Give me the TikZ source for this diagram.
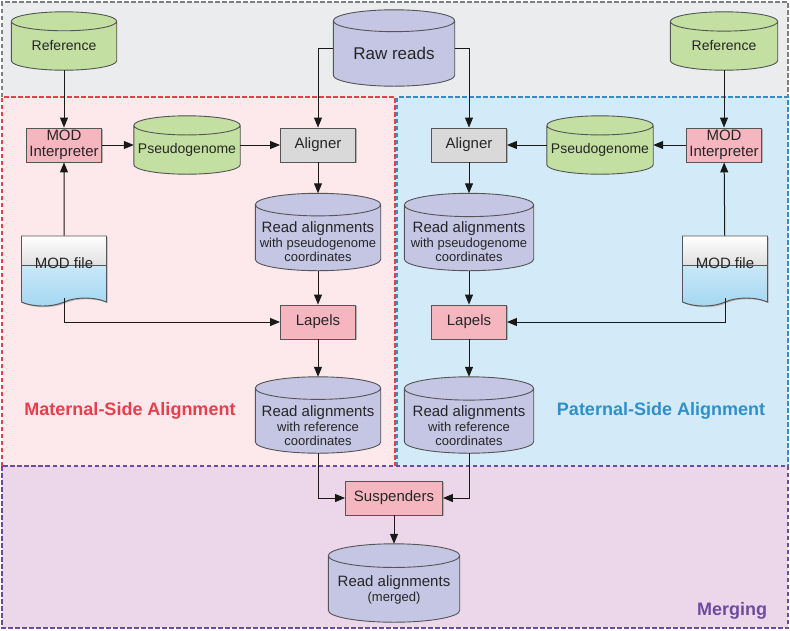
\documentclass[tikz,border=0pt]{standalone}
\usepackage{fontspec}
\setmainfont{Liberation Sans}
\usetikzlibrary{calc,shapes.symbols,shadows,arrows.meta}

\definecolor{topbg}{HTML}{EBECEE}
\definecolor{matbg}{HTML}{FDE8EC}
\definecolor{patbg}{HTML}{D3EBF9}
\definecolor{mrgbg}{HTML}{ECD7EA}
\definecolor{topln}{HTML}{7F7F7F}
\definecolor{matln}{HTML}{E5404C}
\definecolor{patln}{HTML}{2F8FCB}
\definecolor{mrgln}{HTML}{6D4C9F}
\definecolor{greenfill}{HTML}{C3DFA2}
\definecolor{purplefill}{HTML}{C5C5E4}
\definecolor{pinkfill}{HTML}{F6B6C0}
\definecolor{grayfill}{HTML}{D9D9D9}
\definecolor{docblue}{HTML}{A3D7F2}
\definecolor{edge}{HTML}{555555}

\pgfdeclarelayer{regions}
\pgfdeclarelayer{back}
\pgfsetlayers{regions,back,main}

% cylinder outline filling the box of a node
\newcommand\dbpath[1]{let \p1=(#1.north west), \p2=(#1.south east),
  \n1={(\x2-\x1)/2}, \n2={0.09*(\x2-\x1)} in
  (\x1,\y1-\n2) -- (\x1,\y2+\n2) arc[start angle=180,end angle=360,x radius=\n1,y radius=\n2]
  -- (\x2,\y1-\n2) arc[start angle=0,end angle=180,x radius=\n1,y radius=\n2] -- cycle
  (\x1,\y1-\n2) arc[start angle=180,end angle=360,x radius=\n1,y radius=\n2]}

\begin{document}
\begin{tikzpicture}[x=1pt,y=-1pt]
\tikzstyle{every node}+=[inner sep=0pt, font=\fontsize{15}{16}\selectfont, text=black!85]
\tikzstyle{region}=[line width=2pt, dash pattern=on 4.5pt off 2.5pt]
\tikzstyle{shade}=[general shadow={fill=black!30, shadow xshift=1.2pt, shadow yshift=-1.2pt}]
\tikzstyle{db}=[rectangle]
\tikzstyle{dbtext}=[align=center]
\tikzstyle{small}=[font=\fontsize{13}{14.5}\selectfont]
\tikzstyle{tool}=[rectangle, draw=edge, line width=0.9pt, align=center, minimum width=75pt, minimum height=34pt, shade]
\tikzstyle{doc}=[tape, tape bend top=none, tape bend bottom=in and out, tape bend height=8pt,
  draw=edge, line width=0.9pt, minimum width=85pt, minimum height=70pt, text depth=8pt, shade,
  path picture={
    \fill[top color=docblue!30, bottom color=docblue] (path picture bounding box.south west) rectangle (path picture bounding box.north east);
    \fill[top color=white, bottom color=black!12] (path picture bounding box.north west) rectangle ([yshift=-29pt]path picture bounding box.north east);
    \draw[edge, line width=0.7pt] ([yshift=-29pt]path picture bounding box.north west) -- ([yshift=-29pt]path picture bounding box.north east);
  }]
\tikzstyle{arr}=[-{Triangle[length=10pt,width=8pt]}, line width=1pt, black!90]
\tikzstyle{side}=[font=\fontsize{18}{20}\selectfont\bfseries]

% regions
\path[use as bounding box] (0,0) rectangle (790,630);
\begin{pgfonlayer}{regions}
\fill[topbg] (2,2) rectangle (788,97);
\fill[matbg] (2,97) rectangle (395,466);
\fill[patbg] (395,97) rectangle (788,466);
\fill[mrgbg] (2,466) rectangle (788,628);
\draw[region, topln] (2,97) -- (2,2) -- (788,2) -- (788,97);
\draw[region, matln] (2,466) -- (2,97) -- (395,97) -- (395,466);
\draw[region, patln] (397,466) -- (397,97) -- (788,97) -- (788,466);
\draw[region, mrgln] (2,466) rectangle (788,628);
\end{pgfonlayer}

% inputs
\node[db, minimum width=105pt, minimum height=58pt,
  label={[dbtext, font=\fontsize{14}{16}\selectfont, yshift=-4pt]center:Reference}] (refL) at (64,41) {};
\node[db, minimum width=121pt, minimum height=76pt,
  label={[dbtext, font=\fontsize{17}{18}\selectfont, yshift=-5pt]center:Raw reads}] (raw) at (394,48) {};
\node[db, minimum width=107pt, minimum height=58pt,
  label={[dbtext, font=\fontsize{14}{16}\selectfont, yshift=-4pt]center:Reference}] (refR) at (724,41) {};

% maternal side
\node[tool, fill=pinkfill] (modL) at (64,145) {MOD\\Interpreter};
\node[db, minimum width=106pt, minimum height=58pt,
  label={[dbtext, font=\fontsize{14}{16}\selectfont, yshift=-5pt]center:Pseudogenome}] (pseuL) at (187,145) {};
\node[tool, fill=grayfill] (alnL) at (318,145) {Aligner};
\node[db, minimum width=125pt, minimum height=77pt,
  label={[dbtext, small, yshift=-10pt]center:{{\fontsize{15}{16}\selectfont Read alignments}\\with pseudogenome\\coordinates}}] (rapL) at (318,232) {};
\node[doc] (docL) at (64,267) {MOD file};
\node[tool, fill=pinkfill] (lapL) at (318,322) {Lapels};
\node[db, minimum width=125pt, minimum height=76pt,
  label={[dbtext, small, yshift=-11pt]center:{{\fontsize{15}{16}\selectfont Read alignments}\\with reference\\coordinates}}] (rrfL) at (318,415) {};
\node[side, text=matln] (matL) at (130,411) {Maternal-Side Alignment};

% paternal side
\node[tool, fill=pinkfill] (modR) at (724,145) {MOD\\Interpreter};
\node[db, minimum width=106pt, minimum height=58pt,
  label={[dbtext, font=\fontsize{14}{16}\selectfont, yshift=-5pt]center:Pseudogenome}] (pseuR) at (600,145) {};
\node[tool, fill=grayfill] (alnR) at (469,145) {Aligner};
\node[db, minimum width=129pt, minimum height=77pt,
  label={[dbtext, small, yshift=-10pt]center:{{\fontsize{15}{16}\selectfont Read alignments}\\with pseudogenome\\coordinates}}] (rapR) at (469,232) {};
\node[doc] (docR) at (725,267) {MOD file};
\node[tool, fill=pinkfill] (lapR) at (469,322) {Lapels};
\node[db, minimum width=129pt, minimum height=76pt,
  label={[dbtext, small, yshift=-11pt]center:{{\fontsize{15}{16}\selectfont Read alignments}\\with reference\\coordinates}}] (rrfR) at (469,415) {};
\node[side, text=patln] (patL) at (661,411) {Paternal-Side Alignment};

% merging
\node[tool, fill=pinkfill, minimum width=97pt] (susp) at (394,498) {Suspenders};
\node[db, minimum width=131pt, minimum height=78pt,
  label={[dbtext, small, yshift=-7pt]center:{{\fontsize{15}{16}\selectfont Read alignments}\\(merged)}}] (mrg) at (394,583) {};
\node[side, text=mrgln] (mrgL) at (732,611) {Merging};

% cylinders behind the labels
\begin{pgfonlayer}{back}
\foreach \nd/\cl in {refL/greenfill, raw/purplefill, refR/greenfill, pseuL/greenfill, pseuR/greenfill,
    rapL/purplefill, rapR/purplefill, rrfL/purplefill, rrfR/purplefill, mrg/purplefill} {
  \fill[black!30, xshift=1.2pt, yshift=-1.2pt] \dbpath{\nd};
  \filldraw[fill=\cl, draw=edge, line width=0.9pt] \dbpath{\nd};
}
\end{pgfonlayer}

% connectors
\draw[arr] (refL) -- (modL);
\draw[arr] (modL) -- (pseuL);
\draw[arr] (pseuL) -- (alnL);
\draw[arr] (raw.west) -| (alnL);
\draw[arr] (alnL) -- (rapL);
\draw[arr] (rapL) -- (lapL);
\draw[arr] (docL) -- (modL);
\draw[arr] (docL.south) |- (lapL);
\draw[arr] (lapL) -- (rrfL);
\draw[arr] (rrfL.south) |- (susp);
\draw[arr] (refR) -- (modR);
\draw[arr] (modR) -- (pseuR);
\draw[arr] (pseuR) -- (alnR);
\draw[arr] (raw.east) -| (alnR);
\draw[arr] (alnR) -- (rapR);
\draw[arr] (rapR) -- (lapR);
\draw[arr] (docR) -- (modR);
\draw[arr] (docR.south) |- (lapR);
\draw[arr] (lapR) -- (rrfR);
\draw[arr] (rrfR.south) |- (susp);
\draw[arr] (susp) -- (mrg);
\end{tikzpicture}
\end{document}
